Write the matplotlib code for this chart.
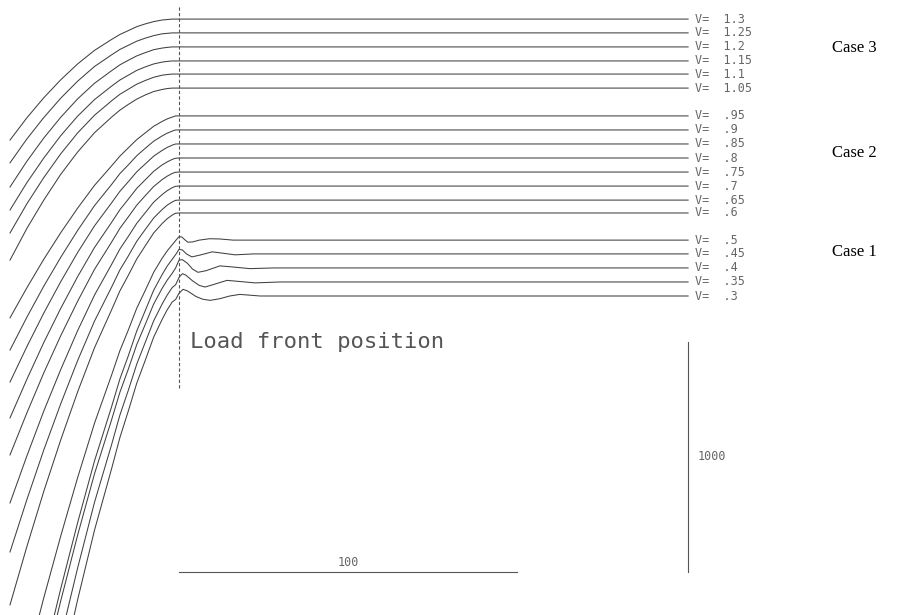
import matplotlib
matplotlib.use('Agg')
import matplotlib.pyplot as plt

# load speeds, grouped by case (top to bottom)
case3_v = ['1.3', '1.25', '1.2', '1.15', '1.1', '1.05']
case2_v = ['.95', '.9', '.85', '.8', '.75', '.7', '.65', '.6']
case1_v = ['.5', '.45', '.4', '.35', '.3']

# steady level of each profile (same order as the speeds)
case3_level = [2591, 2531, 2470, 2409, 2352, 2291]
case2_level = [2170, 2109, 2048, 1987, 1926, 1865, 1804, 1748]
case1_level = [1630, 1570, 1509, 1448, 1387]

# positions behind the load front where the profiles were sampled
rise_x = [-50, -45, -40, -35, -30, -25, -20, -17.5, -15, -12.5, -10, -7.5, -5, -3.5, -2, -1, 0]

# drop below the steady level at rise_x
case3_drop = [
    [526, 429, 342, 264, 195, 136, 89, 67, 50, 33, 21, 11, 4, 2, 0, 0, 0],
    [565, 461, 368, 284, 210, 146, 96, 72, 54, 36, 23, 12, 4, 2, 0, 0, 0],
    [609, 497, 396, 306, 226, 158, 104, 78, 58, 39, 25, 12, 5, 2, 0, 0, 0],
    [648, 529, 422, 325, 240, 168, 110, 83, 62, 41, 26, 13, 5, 2, 0, 0, 0],
    [691, 564, 450, 347, 256, 179, 117, 88, 66, 44, 28, 14, 5, 2, 0, 0, 0],
    [748, 610, 487, 375, 278, 194, 127, 96, 71, 48, 30, 15, 6, 2, 0, 0, 0],
]
case2_drop = [
    [878, 747, 623, 508, 401, 302, 218, 175, 139, 103, 74, 45, 24, 13, 5, 0, 0],
    [957, 814, 679, 554, 437, 329, 238, 190, 152, 112, 80, 49, 26, 14, 5, 0, 0],
    [1035, 881, 735, 599, 472, 356, 257, 206, 164, 121, 87, 53, 28, 15, 5, 0, 0],
    [1130, 962, 802, 654, 516, 389, 281, 225, 179, 132, 95, 58, 30, 17, 6, 1, 0],
    [1230, 1047, 873, 712, 562, 423, 306, 245, 195, 144, 103, 63, 33, 18, 6, 1, 0],
    [1378, 1173, 978, 798, 629, 474, 342, 274, 219, 162, 116, 70, 37, 20, 7, 1, 0],
    [1530, 1302, 1086, 886, 698, 526, 380, 304, 243, 179, 128, 78, 41, 22, 8, 1, 0],
    [1704, 1450, 1210, 987, 778, 586, 423, 339, 271, 200, 143, 87, 46, 25, 9, 1, 0],
]
# case 1 uses rise_x up to x=-2, then its wavy tail ahead of the front
case1_drop = [
    [2133, 1838, 1555, 1287, 1033, 796, 589, 481, 391, 296, 219, 140, 79, 47, 20],
    [2413, 2080, 1759, 1456, 1169, 900, 667, 544, 443, 335, 247, 158, 90, 53, 23],
    [2400, 2068, 1749, 1448, 1162, 895, 663, 541, 440, 333, 246, 157, 89, 53, 23],
    [2568, 2213, 1872, 1549, 1244, 958, 710, 579, 471, 357, 263, 169, 96, 57, 24],
    [2728, 2352, 1989, 1646, 1321, 1018, 754, 616, 500, 379, 280, 179, 102, 60, 26],
]
case1_tail_x = [
    [-1, 0, 0.8, 1.6, 2.6, 4, 6, 9, 12, 16],
    [-1, 0, 1, 2.2, 3.8, 6.5, 9.8, 13, 16.6, 22],
    [-1, 0, 1, 2.5, 4, 5.6, 8, 12.1, 16, 21, 28],
    [-1, 0, 1, 2, 4, 6, 7.7, 10, 14.2, 18, 22.5, 30],
    [-1, 0, 1.2, 2.5, 5, 7, 9.2, 12, 15, 18, 24],
]
case1_tail_d = [
    [2, -15, -14, -3, 9, 8, 0, -6, -5, 0],
    [3, -20, -17, 0, 13, 4, -9, -3, 4, 0],
    [0, -34, -36, -20, 5, 19, 12, -9, -4, 3, 0],
    [12, -20, -36, -30, -5, 15, 22, 12, -7, -2, 4, 0],
    [15, -12, -29, -22, 2, 14, 19, 12, 0, -7, 0],
]

x_end = 150.6

fig = plt.figure(figsize=(8.98, 6.15), dpi=100)
ax = fig.add_axes([0, 0, 1, 1])
ax.set_xlim(-52.96, 212.7)
ax.set_ylim(0, 2674)
ax.axis('off')

line_kw = dict(color='#404040', lw=0.75, solid_joinstyle='round')
mono = dict(family='DejaVu Sans Mono', color='#666666')


def v_label(level, v):
    ax.text(152.7, level, 'V=  ' + v, fontsize=8.5, va='center', ha='left', **mono)


for lev, drop, v in zip(case3_level + case2_level, case3_drop + case2_drop, case3_v + case2_v):
    xs = rise_x + [x_end]
    ys = [lev - d for d in drop] + [lev]
    ax.plot(xs, ys, **line_kw)
    v_label(lev, v)

for lev, drop, tx, td, v in zip(case1_level, case1_drop, case1_tail_x, case1_tail_d, case1_v):
    xs = rise_x[:-2] + tx + [x_end]
    ys = [lev - d for d in drop + td] + [lev]
    ax.plot(xs, ys, **line_kw)
    v_label(lev, v)

# load front marker
ax.plot([0, 0], [987, 2652], color='#555555', lw=0.8, ls=(0, (3, 2)))
ax.text(3.3, 1161, 'Load front position', fontsize=16, va='baseline', ha='left',
        family='DejaVu Sans Mono', color='#555555')

# scale bars
ax.plot([0, 100], [187, 187], color='#555555', lw=0.8)
ax.text(50, 230, '100', fontsize=8.5, ha='center', va='center', **mono)
ax.plot([x_end, x_end], [187, 1187], color='#555555', lw=0.8)
ax.text(153.3, 687, '1000', fontsize=8.5, ha='left', va='center', **mono)

for name, y in [('Case 3', 2465), ('Case 2', 2009), ('Case 1', 1578)]:
    ax.text(193.2, y, name, fontsize=12, family='Liberation Serif', va='center', ha='left')

fig.savefig('out.png', dpi=100)
